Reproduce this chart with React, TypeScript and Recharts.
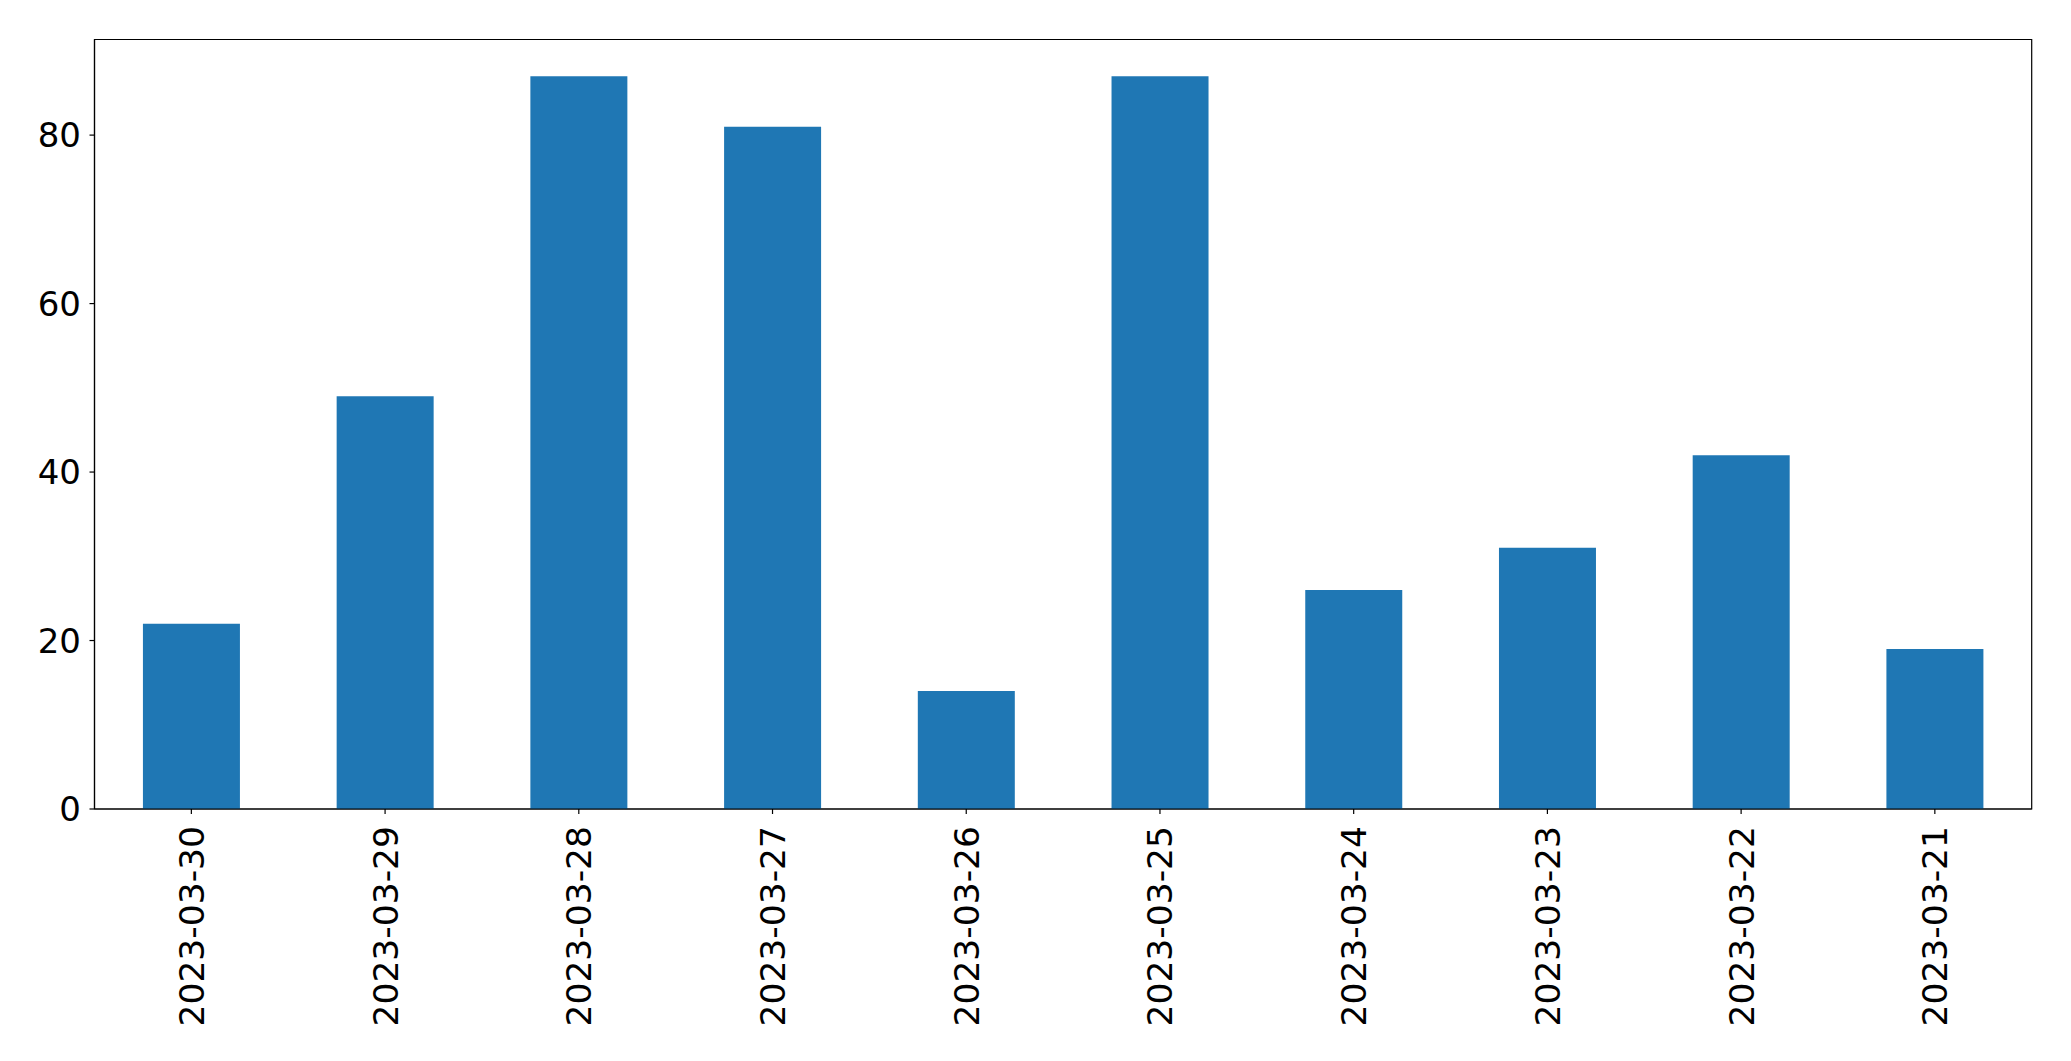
import React from 'react';
import { BarChart, Bar, XAxis, YAxis, ReferenceArea } from 'recharts';

const dates = [
    '2023-03-30', '2023-03-29', '2023-03-28', '2023-03-27', '2023-03-26',
    '2023-03-25', '2023-03-24', '2023-03-23', '2023-03-22', '2023-03-21',
];
const counts = [22, 49, 87, 81, 14, 87, 26, 31, 42, 19];
const yTicks = [0, 20, 40, 60, 80];

const data = dates.map((d, i) => ({ date: d, count: counts[i] }));

const FONT = '"DejaVu Sans", sans-serif';
const Y_MAX = 91.35;

// rotated date labels, centred on the tick
const DateTick = ({ x, y, payload }: any) => (
    <g transform={`translate(${x},${y + 10})`}>
        <text
            transform="rotate(-90)"
            textAnchor="end"
            dy="0.36em"
            fontSize={34.5}
            fontFamily={FONT}
            fill="#000"
        >
            {payload.value}
        </text>
    </g>
);

const App: React.FC = () => {
    return (
        <div style={{ position: 'absolute', left: 0, top: 0, background: '#fff' }}>
            <BarChart
                width={2071}
                height={1061}
                data={data}
                barCategoryGap="25%"
                margin={{ top: 39.5, right: 39.3, bottom: 12, left: 14.5 }}
            >
                <XAxis
                    dataKey="date"
                    interval={0}
                    height={240}
                    stroke="#000"
                    tick={<DateTick />}
                    tickSize={5}
                    tickLine={{ stroke: '#000', strokeWidth: 1.2 }}
                    axisLine={{ stroke: '#000', strokeWidth: 1.2 }}
                />
                <YAxis
                    width={80}
                    domain={[0, Y_MAX]}
                    ticks={yTicks}
                    allowDataOverflow
                    stroke="#000"
                    tickSize={5}
                    tickMargin={8.5}
                    tick={{ fill: '#000', fontSize: 34, fontFamily: FONT }}
                    tickLine={{ stroke: '#000', strokeWidth: 1.2 }}
                    axisLine={{ stroke: '#000', strokeWidth: 1.2 }}
                />
                <Bar dataKey="count" fill="#1f77b4" isAnimationActive={false} />
                {/* frame around the plot area */}
                <ReferenceArea
                    y1={0}
                    y2={Y_MAX}
                    fill="none"
                    fillOpacity={0}
                    stroke="#000"
                    strokeWidth={1.2}
                    ifOverflow="visible"
                />
            </BarChart>
        </div>
    );
};

export default App;
